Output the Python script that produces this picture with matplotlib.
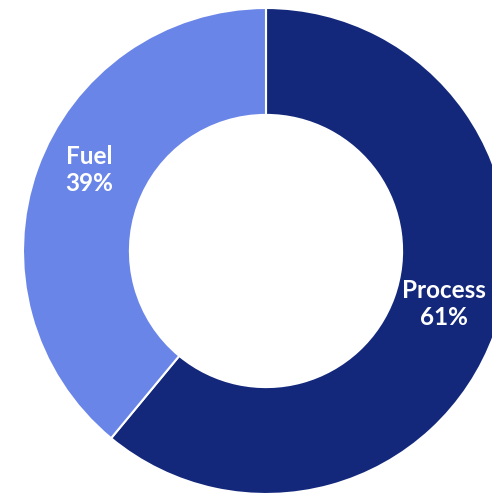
import numpy as np
import matplotlib.pyplot as plt

# Datos del gráfico
categorias = ["Process", "Fuel"]
porcentajes = [61, 39]
colores = ["#13287b", "#6a85e8"]

fig = plt.figure(figsize=(4.92, 4.95), dpi=100)
# eje colocado para que el anillo quede recortado a la derecha y abajo como en la imagen
ax = fig.add_axes([23 / 492, 1 / 495, 486 / 492, 486 / 495])

cunas, _ = ax.pie(porcentajes, colors=colores, startangle=90, counterclock=False,
                  radius=1.0, wedgeprops=dict(width=0.44, edgecolor="white", linewidth=1.5))
ax.set_xlim(-1, 1)
ax.set_ylim(-1, 1)
ax.set_aspect("equal")
ax.axis("off")

# Posición de las etiquetas dentro del anillo (ángulo en grados, radio)
pos_etiquetas = {"Process": (-16.5, 0.765), "Fuel": (155.5, 0.80)}

for nombre, pct in zip(categorias, porcentajes):
    ang, r = pos_etiquetas[nombre]
    x, y = r * np.cos(np.deg2rad(ang)), r * np.sin(np.deg2rad(ang))
    ax.text(x, y, f"{nombre}\n{pct}%", color="white", fontsize=17.5, fontweight="bold",
            family="Lato", ha="center", va="center", linespacing=1.22)

fig.savefig("out.png", dpi=100)
